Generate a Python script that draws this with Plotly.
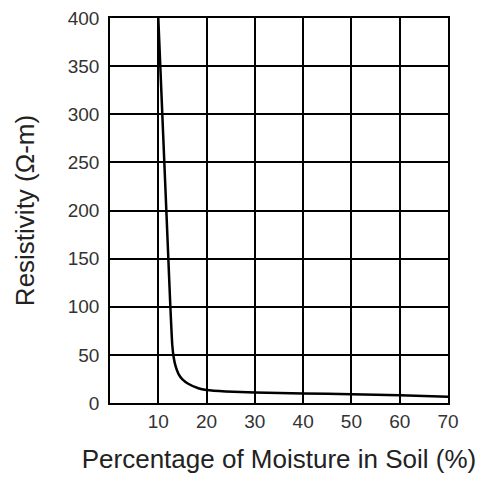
import plotly.graph_objects as go

moisture = [10, 10.5, 11.0, 11.5, 12.0, 12.5, 12.9, 13.2, 13.6, 14.2, 15.0, 16.2, 18.3, 20, 24, 30, 40, 50, 60, 70]
resistivity = [400, 340, 280, 220, 160, 100, 60, 47, 38, 30, 24.5, 20, 15.3, 13.5, 12, 11, 10, 9, 8, 6.5]
x_ticks = [10, 20, 30, 40, 50, 60, 70]
y_ticks = [0, 50, 100, 150, 200, 250, 300, 350, 400]

fig = go.Figure()
fig.add_trace(go.Scatter(
    x=moisture, y=resistivity, mode="lines",
    line=dict(color="black", width=2.5, shape="spline", smoothing=0.4),
    showlegend=False, hoverinfo="skip"))

font_family = "Liberation Sans, Arial, sans-serif"
fig.update_layout(
    width=487, height=480,
    margin=dict(l=102, r=47, t=10, b=85),
    paper_bgcolor="white", plot_bgcolor="white",
    font=dict(family=font_family, color="#222", size=19),
    xaxis=dict(
        range=[0, 70], tickvals=x_ticks, ticktext=[str(v) for v in x_ticks],
        showgrid=True, gridcolor="black", gridwidth=1.5,
        showline=True, linecolor="black", linewidth=1.5, mirror=True,
        zeroline=False, ticks="", ticklen=0, automargin=False,
        ticklabeloverflow="allow",
        tickfont=dict(size=19, color="#333"),
        title=dict(text="Percentage of Moisture in Soil (%)", font=dict(size=26, color="#222"), standoff=19),
    ),
    yaxis=dict(
        range=[0, 400], tickvals=y_ticks,
        showgrid=True, gridcolor="black", gridwidth=1.5,
        showline=True, linecolor="black", linewidth=1.5, mirror=True,
        zeroline=False, ticks="", ticklen=0, automargin=False,
        ticklabelstandoff=5, ticklabeloverflow="allow",
        tickfont=dict(size=19, color="#333"),
        title=dict(text="Resistivity (Ω-m)", font=dict(size=26, color="#222"), standoff=26),
    ),
)

fig.write_html("out.html")
